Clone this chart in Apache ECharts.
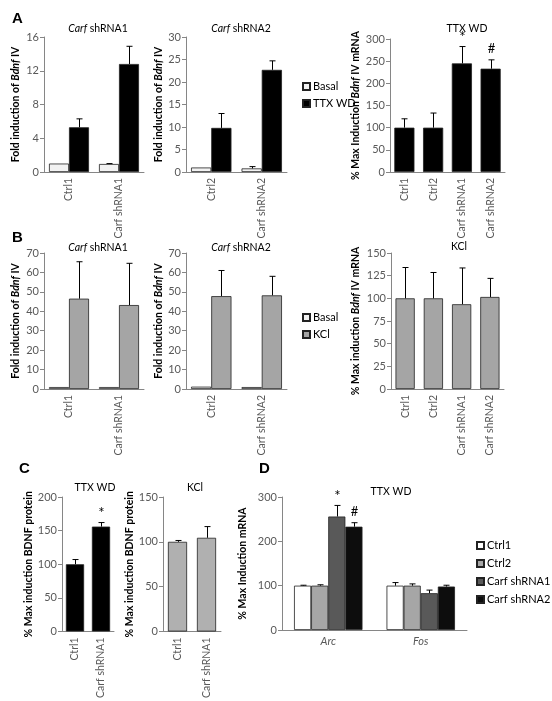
<!DOCTYPE html>
<html><head><meta charset="utf-8">
<script src="https://cdn.jsdelivr.net/npm/echarts@6/dist/echarts.min.js"></script>
<style>html,body{margin:0;padding:0;background:#fff}#c{width:552px;height:701px}</style>
</head><body><div id="c"></div>
<script>
// ---------- Panel A ----------
var catsA1 = ['Ctrl1', 'Carf shRNA1'];
var basalA1 = [1.0, 0.95];
var basalA1Err = [0, 0.05];
var ttxA1 = [5.3, 12.8];
var ttxA1Err = [1.0, 2.1];
var catsA2 = ['Ctrl2', 'Carf shRNA2'];
var basalA2 = [1.0, 0.8];
var basalA2Err = [0, 0.4];
var ttxA2 = [9.8, 22.7];
var ttxA2Err = [3.2, 2.0];
var catsA3 = ['Ctrl1', 'Ctrl2', 'Carf shRNA1', 'Carf shRNA2'];
var ttxA3 = [100, 100, 245, 233];
var ttxA3Err = [20, 33, 38, 20];
var sigA3 = ['', '', '*', '#'];
// ---------- Panel B ----------
var catsB1 = ['Ctrl1', 'Carf shRNA1'];
var basalB1 = [1.0, 1.0];
var kclB1 = [46.5, 43.2];
var kclB1Err = [19, 21.5];
var catsB2 = ['Ctrl2', 'Carf shRNA2'];
var basalB2 = [1.2, 1.0];
var kclB2 = [47.8, 48.2];
var kclB2Err = [13.2, 9.8];
var catsB3 = ['Ctrl1', 'Ctrl2', 'Carf shRNA1', 'Carf shRNA2'];
var kclB3 = [100, 100, 93.5, 101.5];
var kclB3Err = [34, 28.5, 40, 20.5];
// ---------- Panel C ----------
var catsC = ['Ctrl1', 'Carf shRNA1'];
var ttxC = [100, 156];
var ttxCErr = [7, 6];
var sigC = ['', '*'];
var kclC = [100, 104.5];
var kclCErr = [1.5, 12.5];
// ---------- Panel D ----------
var genesD = ['Arc', 'Fos'];
var ctrl1D = [100, 100];
var ctrl1DErr = [1, 7];
var ctrl2D = [100, 100];
var ctrl2DErr = [2, 4];
var sh1D = [256, 83];
var sh1DErr = [25, 7];
var sh2D = [233, 98];
var sh2DErr = [9, 3];
var sigD1 = ['*', ''];
var sigD2 = ['#', ''];

var F = 'Lato';
var AX = '#868686', LB = '#595959';
var GRAY = '#a5a5a5';

function yAx(g, max, interval, name, gap) {
  return {
    type: 'value', gridIndex: g, min: 0, max: max, interval: interval,
    axisLine: {show: true, lineStyle: {color: AX}},
    axisTick: {show: true, length: 4, lineStyle: {color: AX}},
    splitLine: {show: false},
    axisLabel: {color: LB, fontSize: 11, fontFamily: F, margin: 5},
    name: name, nameLocation: 'middle', nameRotate: 90, nameGap: gap,
    nameTextStyle: {color: '#000', fontSize: 10.5, fontWeight: 'bold', fontFamily: F,
      rich: {i: {fontStyle: 'italic', fontWeight: 'bold', fontSize: 10.5, fontFamily: F, color: '#000'}}}
  };
}
function xAx(g, cats, rotate, italic) {
  return {
    type: 'category', gridIndex: g, data: cats,
    axisLine: {lineStyle: {color: AX}},
    axisTick: {length: 4, lineStyle: {color: AX}},
    axisLabel: {rotate: rotate, color: LB, fontSize: italic ? 11 : 10.5, fontFamily: F, margin: 6, interval: 0,
      fontStyle: italic ? 'italic' : 'normal'}
  };
}
function bar(name, g, data, color, gap) {
  return {
    type: 'bar', name: name, xAxisIndex: g, yAxisIndex: g, data: data,
    barGap: '0%', barCategoryGap: gap, animation: false, silent: true,
    itemStyle: {color: color, borderColor: '#222', borderWidth: 0.8}
  };
}
function err(g, vals, errs, pos, n, gapFrac, sigs) {
  var data = vals.map(function (v, i) { return [i, v, errs[i]]; });
  return {
    type: 'custom', xAxisIndex: g, yAxisIndex: g, data: data, z: 5, silent: true, animation: false,
    clip: false,
    encode: {x: 0, y: 1},
    renderItem: function (params, api) {
      var band = api.size([1, 0])[0];
      var bw = band * (1 - gapFrac) / n;
      var off = (pos - (n - 1) / 2) * bw;
      var i = api.value(0), v = api.value(1), e = api.value(2);
      var p0 = api.coord([i, v]);
      var p1 = api.coord([i, v + e]);
      var x = Math.round(p0[0] + off) + 0.5;
      var ch = [];
      if (e > 0) {
        ch.push({type: 'line', shape: {x1: x, y1: p0[1], x2: x, y2: p1[1]}, style: {stroke: '#000', lineWidth: 1}});
        ch.push({type: 'line', shape: {x1: x - 3, y1: p1[1], x2: x + 3, y2: p1[1]}, style: {stroke: '#000', lineWidth: 1}});
      }
      var s = sigs ? sigs[params.dataIndex] : '';
      if (s) {
        var star = s === '*';
        ch.push({type: 'text', z2: 10, style: {text: s, x: x, y: p1[1] - (star ? 9 : 11), align: 'center', verticalAlign: 'middle',
          font: (star ? '15px ' : '13px ') + F, fill: '#000'}});
      }
      return {type: 'group', children: ch};
    }
  };
}

var grids = [
  {left: 44, top: 37, width: 100, height: 135},   // A1
  {left: 186, top: 37, width: 101, height: 135},  // A2
  {left: 390, top: 39, width: 115, height: 133},  // A3
  {left: 44, top: 253, width: 100, height: 136},  // B1
  {left: 186, top: 253, width: 101, height: 136}, // B2
  {left: 391, top: 253, width: 113, height: 136}, // B3
  {left: 62, top: 497, width: 52, height: 135},   // C1
  {left: 163, top: 497, width: 58, height: 135},  // C2
  {left: 282, top: 497, width: 185, height: 133}  // D
];

function subTitle(text, x, y) {
  return {text: text, left: x, top: y, textAlign: 'center',
    textStyle: {fontSize: 10.5, fontWeight: 'normal', color: '#000', fontFamily: F,
      rich: {i: {fontStyle: 'italic', fontSize: 10.5, fontFamily: F, color: '#000'}}}};
}
function letter(text, x, y) {
  return {text: text, left: x, top: y, textStyle: {fontSize: 15, fontWeight: 'bold', fontFamily: 'Liberation Sans', color: '#000'}};
}
var legendText = {fontSize: 11, color: '#000', fontFamily: F, padding: [0, 0, 0, -2]};

var option = {
  backgroundColor: '#fff',
  animation: false,
  textStyle: {fontFamily: F},
  grid: grids,
  title: [
    letter('A', 7, 6), letter('B', 7, 225), letter('C', 14, 456), letter('D', 254, 456),
    subTitle('{i|Carf} shRNA1', 93, 18),
    subTitle('{i|Carf} shRNA2', 236, 18),
    subTitle('TTX WD', 462, 18),
    subTitle('{i|Carf} shRNA1', 93, 237),
    subTitle('{i|Carf} shRNA2', 236, 237),
    subTitle('KCl', 454, 236),
    subTitle('TTX WD', 90, 477),
    subTitle('KCl', 190, 477),
    subTitle('TTX WD', 386, 481)
  ],
  legend: [
    {data: ['Basal', 'TTX WD'], orient: 'vertical', left: 297, top: 76, itemWidth: 7, itemHeight: 7, itemGap: 6,
      icon: 'rect', selectedMode: false, textStyle: legendText},
    {data: ['Basal', 'KCl'], orient: 'vertical', left: 297, top: 307, itemWidth: 7, itemHeight: 7, itemGap: 6,
      icon: 'rect', selectedMode: false, textStyle: legendText},
    {data: ['Ctrl1 ', 'Ctrl2 ', 'Carf shRNA1 ', 'Carf shRNA2 '], orient: 'vertical', left: 471, top: 535, itemWidth: 7, itemHeight: 7, itemGap: 7,
      icon: 'rect', selectedMode: false, textStyle: legendText}
  ],
  xAxis: [
    xAx(0, catsA1, 90), xAx(1, catsA2, 90), xAx(2, catsA3, 90),
    xAx(3, catsB1, 90), xAx(4, catsB2, 90), xAx(5, catsB3, 90),
    xAx(6, catsC, 90), xAx(7, catsC, 90), xAx(8, genesD, 0, true)
  ],
  yAxis: [
    yAx(0, 16, 4, 'Fold induction of {i|Bdnf} IV', 23),
    yAx(1, 30, 5, 'Fold induction of {i|Bdnf} IV', 21),
    yAx(2, 300, 50, '% Max Induction {i|Bdnf} IV mRNA', 29),
    yAx(3, 70, 10, 'Fold induction of {i|Bdnf} IV', 23),
    yAx(4, 70, 10, 'Fold induction of {i|Bdnf} IV', 22),
    yAx(5, 150, 25, '% Max induction {i|Bdnf} IV mRNA', 30),
    yAx(6, 200, 50, '% Max induction BDNF protein', 26),
    yAx(7, 150, 50, '% Max induction BDNF protein', 27),
    yAx(8, 300, 100, '% Max Induction mRNA', 34)
  ],
  series: [
    // A1
    bar('Basal', 0, basalA1, '#f2f2f2', '20%'), bar('TTX WD', 0, ttxA1, '#000', '20%'),
    err(0, basalA1, basalA1Err, 0, 2, 0.2), err(0, ttxA1, ttxA1Err, 1, 2, 0.2),
    // A2
    bar('Basal', 1, basalA2, '#f2f2f2', '20%'), bar('TTX WD', 1, ttxA2, '#000', '20%'),
    err(1, basalA2, basalA2Err, 0, 2, 0.2), err(1, ttxA2, ttxA2Err, 1, 2, 0.2),
    // A3
    bar('TTX WD', 2, ttxA3, '#000', '30%'), err(2, ttxA3, ttxA3Err, 0, 1, 0.3, sigA3),
    // B1
    bar('Basal', 3, basalB1, '#fafafa', '20%'), bar('KCl', 3, kclB1, GRAY, '20%'),
    err(3, kclB1, kclB1Err, 1, 2, 0.2),
    // B2
    bar('Basal', 4, basalB2, '#fafafa', '20%'), bar('KCl', 4, kclB2, GRAY, '20%'),
    err(4, kclB2, kclB2Err, 1, 2, 0.2),
    // B3
    bar('KCl', 5, kclB3, GRAY, '32%'), err(5, kclB3, kclB3Err, 0, 1, 0.32),
    // C1
    bar('TTX WD', 6, ttxC, '#000', '30%'), err(6, ttxC, ttxCErr, 0, 1, 0.3, sigC),
    // C2
    bar('KCl', 7, kclC, '#b0b0b0', '34%'), err(7, kclC, kclCErr, 0, 1, 0.34),
    // D
    bar('Ctrl1 ', 8, ctrl1D, '#ffffff', '26%'), bar('Ctrl2 ', 8, ctrl2D, '#a6a6a6', '26%'),
    bar('Carf shRNA1 ', 8, sh1D, '#595959', '26%'), bar('Carf shRNA2 ', 8, sh2D, '#0d0d0d', '26%'),
    err(8, ctrl1D, ctrl1DErr, 0, 4, 0.26), err(8, ctrl2D, ctrl2DErr, 1, 4, 0.26),
    err(8, sh1D, sh1DErr, 2, 4, 0.26, sigD1), err(8, sh2D, sh2DErr, 3, 4, 0.26, sigD2)
  ]
};
var chart = echarts.init(document.getElementById('c'), null, {renderer: 'canvas'});
chart.setOption(option);
</script>
</body></html>
